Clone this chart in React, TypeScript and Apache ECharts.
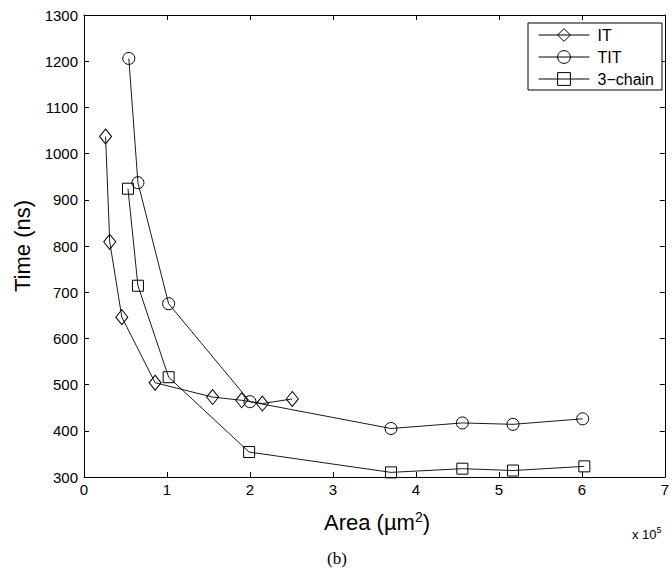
import React, { useEffect, useRef } from "react";
import * as echarts from "echarts";

// x values in units of 1e5 µm²
const itX = [0.26, 0.31, 0.456, 0.857, 1.55, 1.9, 2.15, 2.51];
const itY = [1037, 809, 646, 504, 473, 466, 459, 469];
const titX = [0.54, 0.65, 1.02, 2.0, 3.7, 4.56, 5.17, 6.01];
const titY = [1206, 937, 675, 463, 405, 417, 414, 426];
const chainX = [0.53, 0.65, 1.02, 1.99, 3.7, 4.56, 5.17, 6.03];
const chainY = [924, 714, 516, 354, 310, 318, 314, 323];
const seriesNames = ["IT", "TIT", "3−chain"];
const xTicks = { min: 0, max: 7, interval: 1 };
const yTicks = { min: 300, max: 1300, interval: 100 };

const FONT = "'Liberation Sans', Arial, Helvetica, sans-serif";

export default function App() {
  const ref = useRef<HTMLDivElement>(null);
  useEffect(() => {
    if (!ref.current) return;
    const chart = echarts.init(ref.current, null, { renderer: "svg" });
    const pair = (xs: number[], ys: number[]) => xs.map((x, i) => [x, ys[i]]);
    const mk = (name: string, data: number[][], symbol: string, size: any) => ({
      name,
      type: "line",
      data,
      symbol,
      symbolSize: size,
      showAllSymbol: true,
      lineStyle: { color: "#000", width: 0.9 },
      itemStyle: { color: "rgba(255,255,255,0)", borderColor: "#000", borderWidth: 1 },
      emphasis: { disabled: true },
      z: 3,
    });
    const tick = { show: true, inside: true, length: 5, lineStyle: { color: "#000", width: 1 } };
    const line = { show: true, onZero: false, lineStyle: { color: "#000", width: 1 } };
    chart.setOption({
      animation: false,
      backgroundColor: "#fff",
      grid: { left: 84, top: 15, right: 4, bottom: 96 },
      legend: {
        orient: "vertical",
        left: 528,
        top: 23,
        padding: [4, 8, 3, 10],
        itemWidth: 51,
        itemHeight: 16,
        itemGap: 6,
        borderColor: "#000",
        borderWidth: 1,
        backgroundColor: "#fff",
        lineStyle: { width: 1, color: "#000" },
        itemStyle: { color: "rgba(255,255,255,0)", borderColor: "#000", borderWidth: 1 },
        textStyle: { fontFamily: FONT, fontSize: 16, color: "#000", padding: [0, 0, 0, 3] },
        data: seriesNames,
      },
      xAxis: [
        {
          type: "value",
          ...xTicks,
          position: "bottom",
          axisLine: line,
          axisTick: tick,
          splitLine: { show: false },
          axisLabel: { fontFamily: FONT, fontSize: 15, color: "#000", margin: 5, formatter: (v: number) => String(v) },
        },
        {
          type: "value",
          ...xTicks,
          position: "top",
          axisLine: line,
          axisTick: tick,
          splitLine: { show: false },
          axisLabel: { show: false },
        },
      ],
      yAxis: [
        {
          type: "value",
          ...yTicks,
          position: "left",
          axisLine: line,
          axisTick: tick,
          splitLine: { show: false },
          axisLabel: { fontFamily: FONT, fontSize: 15, color: "#000", margin: 6, formatter: (v: number) => String(v) },
        },
        {
          type: "value",
          ...yTicks,
          position: "right",
          axisLine: line,
          axisTick: tick,
          splitLine: { show: false },
          axisLabel: { show: false },
        },
      ],
      series: [
        mk(seriesNames[0], pair(itX, itY), "diamond", [12, 15]),
        mk(seriesNames[1], pair(titX, titY), "circle", 12),
        mk(seriesNames[2], pair(chainX, chainY), "rect", 11),
      ],
      graphic: [
        {
          type: "text",
          x: 22,
          y: 246,
          rotation: Math.PI / 2,
          style: {
            text: "Time (ns)",
            fontFamily: FONT,
            fontSize: 22,
            fill: "#000",
            align: "center",
            verticalAlign: "middle",
          },
        },
        {
          type: "text",
          x: 377,
          y: 522,
          style: {
            text: "{a|Area (µm}{s|2}{a|)}",
            align: "center",
            verticalAlign: "middle",
            rich: {
              a: { fontFamily: FONT, fontSize: 22, fill: "#000" },
              s: { fontFamily: FONT, fontSize: 14, fill: "#000", verticalAlign: "top", padding: [0, 0, 10, 0] },
            },
          },
        },
        {
          type: "text",
          x: 632,
          y: 534,
          style: {
            text: "{a|x 10}{s|5}",
            align: "left",
            verticalAlign: "middle",
            rich: {
              a: { fontFamily: FONT, fontSize: 13, fill: "#000" },
              s: { fontFamily: FONT, fontSize: 9, fill: "#000", padding: [0, 0, 9, 0] },
            },
          },
        },
        {
          type: "text",
          x: 337,
          y: 558,
          style: {
            text: "(b)",
            fontFamily: "'Liberation Serif', 'DejaVu Serif', serif",
            fontSize: 17,
            fill: "#000",
            align: "center",
            verticalAlign: "middle",
          },
        },
      ],
    });
    return () => chart.dispose();
  }, []);
  return <div ref={ref} style={{ width: 672, height: 573, position: "absolute", left: 0, top: 0 }} />;
}
